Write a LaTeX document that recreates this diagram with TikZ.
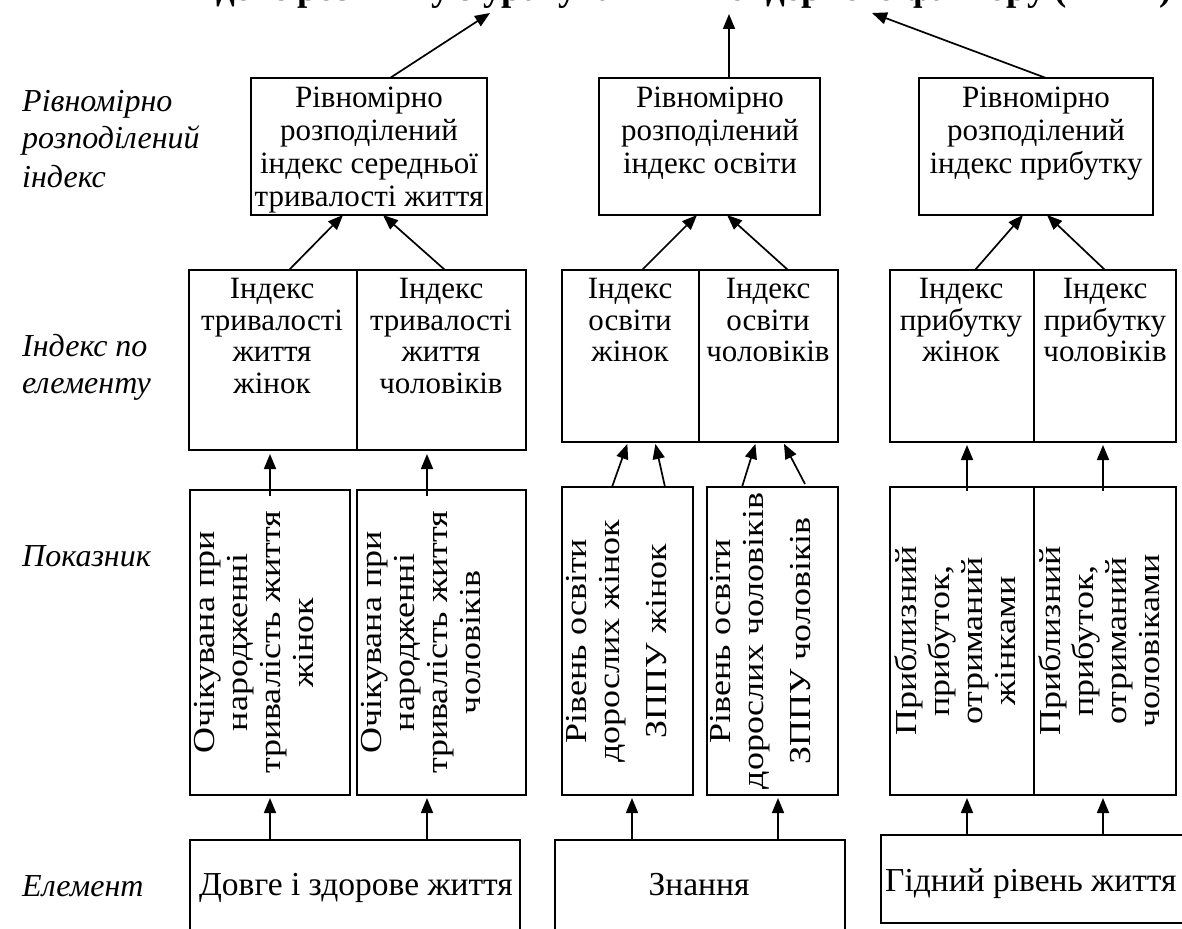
\documentclass[tikz,border=0pt]{standalone}
\usepackage{fontspec}
\setmainfont{Liberation Serif}
\newfontfamily\rotfont[FakeStretch=1.18]{Liberation Serif}
\usetikzlibrary{arrows.meta}
\tikzset{
 bx/.style={draw, line width=2.6pt, inner sep=0pt, outer sep=0pt, anchor=north west},
 txt/.style={align=center, inner sep=0pt, anchor=north, font=\fontsize{31}{33}\selectfont},
 itxt/.style={align=center, inner sep=0pt, anchor=north, font=\fontsize{31}{31.5}\selectfont},
 rtxt/.style={align=center, inner sep=0pt, anchor=north, rotate=90, font=\rotfont\fontsize{30.5}{33}\selectfont},
 lbl/.style={anchor=base west, inner sep=0pt, font=\itshape\fontsize{32}{38}\selectfont},
 etxt/.style={anchor=base, inner sep=0pt, font=\fontsize{33.5}{36}\selectfont},
 con/.style={line width=1.7pt, -{Triangle[length=15pt,width=12pt]}}
}
\begin{document}
\begin{tikzpicture}[x=1pt,y=-1pt]
\useasboundingbox (0,0) rectangle (1182,928);
% title (cut off by the page, as in the original)
\node[anchor=base east, inner sep=0pt, font=\bfseries\fontsize{37}{40}\selectfont] (title) at (1172,1) {Індекс розвитку з урахуванням гендерного фактору (ІРГФ)};
\coordinate (t1) at (490,13);
\coordinate (t2) at (729,14);
\coordinate (t3) at (872,13);
% left labels
\node[lbl] (l1) at (22,112) {Рівномірно};
\node[lbl] (l2) at (22,149) {розподілений};
\node[lbl] (l3) at (22,187) {індекс};
\node[lbl] (l4) at (22,356) {Індекс по};
\node[lbl] (l5) at (22,393) {елементу};
\node[lbl] (l6) at (22,566) {Показник};
\node[lbl] (l7) at (22,896) {Елемент};
% top boxes
\node[bx, minimum width=236pt, minimum height=137pt] (T1) at (251,78) {};
\node[bx, minimum width=221pt, minimum height=137pt] (T2) at (599,78) {};
\node[bx, minimum width=234pt, minimum height=137pt] (T3) at (919,78) {};
\node[txt] (T1t) at (369,87) {Рівномірно\\розподілений\\індекс середньої\\тривалості життя};
\node[txt] (T2t) at (710,87) {Рівномірно\\розподілений\\індекс освіти};
\node[txt] (T3t) at (1036,87) {Рівномірно\\розподілений\\індекс прибутку};
% index boxes
\node[bx, minimum width=168pt, minimum height=180pt] (I1a) at (189,270) {};
\node[bx, minimum width=169pt, minimum height=180pt] (I1b) at (357,270) {};
\node[bx, minimum width=137pt, minimum height=172pt] (I2a) at (562,270) {};
\node[bx, minimum width=139pt, minimum height=172pt] (I2b) at (699,270) {};
\node[bx, minimum width=144pt, minimum height=172pt] (I3a) at (890,270) {};
\node[bx, minimum width=142pt, minimum height=172pt] (I3b) at (1034,270) {};
\node[itxt] (I1at) at (272,278) {Індекс\\тривалості\\життя\\жінок};
\node[itxt] (I1bt) at (441,278) {Індекс\\тривалості\\життя\\чоловіків};
\node[itxt] (I2at) at (630,278) {Індекс\\освіти\\жінок};
\node[itxt] (I2bt) at (768,278) {Індекс\\освіти\\чоловіків};
\node[itxt] (I3at) at (961,278) {Індекс\\прибутку\\жінок};
\node[itxt] (I3bt) at (1105,278) {Індекс\\прибутку\\чоловіків};
% indicator boxes
\node[bx, minimum width=160pt, minimum height=305pt] (P1a) at (190,490) {};
\node[bx, minimum width=169pt, minimum height=305pt] (P1b) at (357,490) {};
\node[bx, minimum width=131pt, minimum height=308pt] (P2a) at (562,487) {};
\node[bx, minimum width=131pt, minimum height=308pt] (P2b) at (707,487) {};
\node[bx, minimum width=144pt, minimum height=308pt] (P3a) at (890,487) {};
\node[bx, minimum width=142pt, minimum height=308pt] (P3b) at (1034,487) {};
\node[rtxt] (P1at) at ([xshift=4pt]P1a.west) {Очікувана при\\народженні\\тривалість життя\\жінок};
\node[rtxt] (P1bt) at ([xshift=4pt]P1b.west) {Очікувана при\\народженні\\тривалість життя\\чоловіків};
\node[rtxt] (P2at) at ([xshift=4pt]P2a.west) {Рівень освіти\\дорослих жінок\\[14pt]ЗППУ жінок};
\node[rtxt] (P2bt) at ([xshift=3pt]P2b.west) {Рівень освіти\\дорослих чоловіків\\[14pt]ЗППУ чоловіків};
\node[rtxt] (P3at) at ([xshift=4pt]P3a.west) {Приблизний\\прибуток,\\отриманий\\жінками};
\node[rtxt] (P3bt) at ([xshift=4pt]P3b.west) {Приблизний\\прибуток,\\отриманий\\чоловіками};
% element boxes
\node[bx, minimum width=330pt, minimum height=120pt] (E1) at (190,840) {};
\node[bx, minimum width=290pt, minimum height=120pt] (E2) at (555,840) {};
\node[bx, minimum width=330pt, minimum height=88pt] (E3) at (881,835) {};
\node[etxt] (E1t) at (356,895) {Довге і здорове життя};
\node[etxt] (E2t) at (699,895) {Знання};
\node[etxt, anchor=base west] (E3t) at (885,891) {Гідний рівень життя};
% element -> indicator
\draw[con, shorten >=3pt] ([xshift=80pt]E1.north west) -- ([xshift=80pt]P1a.south west);
\draw[con, shorten >=3pt] ([xshift=237pt]E1.north west) -- ([xshift=70pt]P1b.south west);
\draw[con, shorten >=3pt] ([xshift=77pt]E2.north west) -- ([xshift=70pt]P2a.south west);
\draw[con, shorten >=3pt] ([xshift=223pt]E2.north west) -- ([xshift=71pt]P2b.south west);
\draw[con, shorten >=3pt] ([xshift=86pt]E3.north west) -- ([xshift=77pt]P3a.south west);
\draw[con, shorten >=3pt] ([xshift=222pt]E3.north west) -- ([xshift=69pt]P3b.south west);
% indicator -> index
\draw[con, shorten >=4pt] ([xshift=80pt,yshift=-6pt]P1a.north west) -- ([xshift=81pt]I1a.south west);
\draw[con, shorten >=4pt] ([xshift=70pt,yshift=-6pt]P1b.north west) -- ([xshift=70pt]I1b.south west);
\draw[con, shorten >=2pt] ([xshift=50pt]P2a.north west) -- ([xshift=66pt]I2a.south west);
\draw[con, shorten >=2pt] ([xshift=103pt]P2a.north west) -- ([xshift=93pt]I2a.south west);
\draw[con, shorten >=2pt] ([xshift=35pt]P2b.north west) -- ([xshift=57pt]I2b.south west);
\draw[con, shorten >=2pt] ([xshift=98pt,yshift=3pt]P2b.north west) -- ([xshift=84pt]I2b.south west);
\draw[con, shorten >=3pt] ([xshift=77pt,yshift=-4pt]P3a.north west) -- ([xshift=77pt]I3a.south west);
\draw[con, shorten >=3pt] ([xshift=69pt,yshift=-4pt]P3b.north west) -- ([xshift=69pt]I3b.south west);
% index -> top
\draw[con] ([xshift=100pt]I1a.north west) -- ([xshift=92pt]T1.south west);
\draw[con] ([xshift=88pt]I1b.north west) -- ([xshift=132pt]T1.south west);
\draw[con] ([xshift=80pt]I2a.north west) -- ([xshift=98pt]T2.south west);
\draw[con] ([xshift=89pt]I2b.north west) -- ([xshift=128pt]T2.south west);
\draw[con] ([xshift=85pt]I3a.north west) -- ([xshift=104pt]T3.south west);
\draw[con] ([xshift=71pt]I3b.north west) -- ([xshift=128pt]T3.south west);
% top -> title
\draw[con] ([xshift=139pt]T1.north west) -- (t1);
\draw[con] ([xshift=130pt]T2.north west) -- (t2);
\draw[con] ([xshift=127pt]T3.north west) -- (t3);
\end{tikzpicture}
\end{document}
